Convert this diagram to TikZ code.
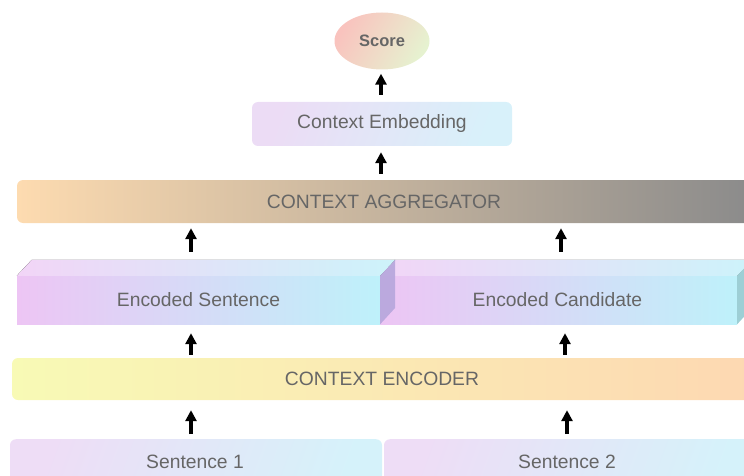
\documentclass[tikz,border=0pt]{standalone}
\usepackage{fontspec}
\setmainfont{Liberation Sans}
\usetikzlibrary{arrows.meta,shapes.geometric,calc}
\definecolor{txt}{HTML}{666666}
\definecolor{scoreA}{HTML}{F9C3BE}
\definecolor{scoreB}{HTML}{E6F2D0}
\definecolor{embA}{HTML}{ECDCF5}
\definecolor{embB}{HTML}{D8F1FA}
\definecolor{aggA}{HTML}{FDDBB0}
\definecolor{aggM}{HTML}{C6B29F}
\definecolor{aggB}{HTML}{8B8B8B}
\definecolor{encA}{HTML}{F8FAB5}
\definecolor{encM}{HTML}{FBF0B5}
\definecolor{encB}{HTML}{FDD8B2}
\definecolor{frA}{HTML}{EDC5F4}
\definecolor{frM}{HTML}{DCDEF6}
\definecolor{frB}{HTML}{BEF1FA}
\definecolor{tpA}{HTML}{F2D5F7}
\definecolor{tpB}{HTML}{CDF3FA}
\definecolor{sideL}{HTML}{B6A6DC}
\definecolor{sideR}{HTML}{9DCFD5}
\definecolor{snA}{HTML}{EEDDF6}
\definecolor{snB}{HTML}{D5F2FA}
\begin{document}
\begin{tikzpicture}[x=1pt,y=-1pt,
  lbl/.style={text=txt, font=\fontsize{19.3}{22}\selectfont, inner sep=0pt},
  arr/.style={-{Triangle[length=11pt,width=11pt]}, line width=3.4pt, black},
  plain/.style={inner sep=0pt, draw=none}]
\clip (0,0) rectangle (744,476);
% Score
\node[plain, ellipse, minimum width=95pt, minimum height=57pt,
  left color=scoreA, right color=scoreB, shading angle=60,
  text=txt, font=\fontsize{16.5}{20}\selectfont\bfseries] (score) at (382,41) {Score};
% Context embedding
\node[plain, rounded corners=6pt, minimum width=260pt, minimum height=44pt,
  left color=embA, right color=embB, shading angle=70] (emb) at (382,124) {};
\node[lbl] (embt) at (emb.center) {Context Embedding};
% Aggregator
\node[plain, rounded corners=6pt, minimum width=734pt, minimum height=43pt,
  left color=aggA, middle color=aggM, right color=aggB] (agg) at (384,201.5) {};
\node[lbl] (aggt) at (agg.center) {CONTEXT AGGREGATOR};
% Encoded candidate (right box)
\node[plain, minimum width=357pt, minimum height=48pt,
  left color=frA, middle color=frM, right color=frB] (ec) at (558.5,300) {};
\fill[left color=tpA, right color=tpB] (ec.north west) -- ++(15,-16) -- ($(ec.north east)+(15,-16)$) -- (ec.north east) -- cycle;
\fill[sideR] (ec.north east) -- ++(15,-16) -- ++(0,48) -- (ec.south east) -- cycle;
\node[lbl] (ect) at ([xshift=-1pt]ec.center) {Encoded Candidate};
% Encoded sentence (left box)
\node[plain, minimum width=363pt, minimum height=48pt,
  left color=frA, middle color=frM, right color=frB] (es) at (198.5,300) {};
\fill[left color=tpA, right color=tpB] (es.north west) -- ++(15,-16) -- ($(es.north east)+(15,-16)$) -- (es.north east) -- cycle;
\fill[sideL, opacity=0.9] (es.north east) -- ++(15,-16) -- ++(0,48) -- (es.south east) -- cycle;
\node[lbl] (est) at (es.center) {Encoded Sentence};
% Context encoder
\node[plain, rounded corners=6pt, minimum width=740pt, minimum height=42pt,
  left color=encA, middle color=encM, right color=encB] (enc) at (382,379) {};
\node[lbl] (enct) at (enc.center) {CONTEXT ENCODER};
% Sentences
\node[plain, rounded corners=6pt, minimum width=372pt, minimum height=60pt,
  left color=snA, right color=snB, shading angle=70, anchor=north] (s1) at (196,439) {};
\node[plain, rounded corners=6pt, minimum width=372pt, minimum height=60pt,
  left color=snA, right color=snB, shading angle=70, anchor=north] (s2) at (570,439) {};
\node[lbl] (s1t) at (195,462) {Sentence 1};
\node[lbl] (s2t) at (567,462) {Sentence 2};
% arrow columns
\coordinate (cL) at (191,0);
\coordinate (cR1) at (567,0);
\coordinate (cR2) at (565,0);
\coordinate (cR3) at (561,0);
\coordinate (cM) at (381,0);
% arrows
\draw[arr, shorten <=5pt, shorten >=10pt] (s1.north -| cL) -- (enc.south -| cL);
\draw[arr, shorten <=5pt, shorten >=10pt] (s2.north -| cR1) -- (enc.south -| cR1);
\draw[arr, shorten <=3pt, shorten >=9pt] (enc.north -| cL) -- (es.south -| cL);
\draw[arr, shorten <=3pt, shorten >=9pt] (enc.north -| cR2) -- (ec.south -| cR2);
\draw[arr, shorten <=8pt, shorten >=5pt] ([yshift=16pt]es.north -| cL) -- (agg.south -| cL);
\draw[arr, shorten <=8pt, shorten >=5pt] ([yshift=16pt]ec.north -| cR3) -- (agg.south -| cR3);
\draw[arr, shorten <=6pt, shorten >=6pt] (agg.north -| cM) -- (emb.south -| cM);
\draw[arr, shorten <=7pt, shorten >=4pt] (emb.north -| cM) -- (score.south -| cM);
\end{tikzpicture}
\end{document}
